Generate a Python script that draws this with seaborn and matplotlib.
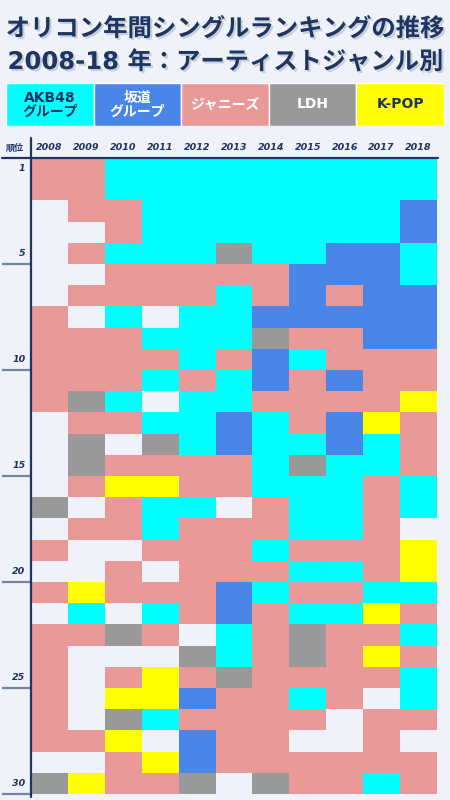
import numpy as np
import pandas as pd
import seaborn as sns
import matplotlib.pyplot as plt
import matplotlib.patheffects as pe
from matplotlib.colors import ListedColormap
from matplotlib.lines import Line2D

# data: artist genre per rank (rows 1-30) for each year
# O = other, A = AKB48, S = 坂道, J = ジャニーズ, L = LDH, K = K-POP
years = ['2008', '2009', '2010', '2011', '2012', '2013', '2014', '2015', '2016', '2017', '2018']
y2008 = list("JJOOOOOJJJ" "JJOOOOLOJO" "JOJJJJJJOL")
y2009 = list("JJJOJOJOJJ" "JLJLLJOJOO" "KAJOOOOJOK")
y2010 = list("AAJJAJJAJJ" "JAJOJKJJOJ" "JOLOJKLKJJ")
y2011 = list("AAAAAJJOAJ" "AOALJKAAJO" "JAJOKKAOKJ")
y2012 = list("AAAAAJJAAA" "JAAAJJAJJJ" "JJOLJSJSSL")
y2013 = list("AAAALJAAAJ" "AASSJJOJJJ" "SSAALJJJJO")
y2014 = list("AAAAAJJSLS" "SJAAAAJJAJ" "AJJJJJJJJL")
y2015 = list("AAAAASSSJA" "JJJALAAAJA" "JALLJAJOJJ")
y2016 = list("AAAASSJSJJ" "SJSSAAAAJA" "JAJJJJOOJJ")
y2017 = list("AAAASSSSSJ" "JJKAAJJJJJ" "AKJKJOJJJA")
y2018 = list("AASSAASSSJ" "JKJJJAAOKK" "AJAJAAJOJJ")

ranks = list(range(1, 31))
rank_labels = ['1', '5', '10', '15', '20', '25', '30']

genres = ['AKB48\nグループ', '坂道\nグループ', 'ジャニーズ', 'LDH', 'K-POP']
genre_codes = ['A', 'S', 'J', 'L', 'K']

# colours
bg = '#eff2f8'
navy = '#1e3562'
genre_colors = ['#00ffff', '#4a86e8', '#ea9999', '#999999', '#ffff00']
text_colors = [navy, 'white', 'white', 'white', navy]

sns.set_style('white')
plt.rcParams['font.family'] = ['DejaVu Sans', 'Noto Sans CJK JP']

# build the table
df = pd.DataFrame({yr: col for yr, col in zip(years, [y2008, y2009, y2010, y2011, y2012, y2013,
                                                      y2014, y2015, y2016, y2017, y2018])},
                  index=ranks)
code_map = {'O': 0, 'A': 1, 'S': 2, 'J': 3, 'L': 4, 'K': 5}
num = df.replace(code_map).astype(int)
cmap = ListedColormap([bg] + genre_colors)

fig = plt.figure(figsize=(4.5, 8), dpi=100, facecolor=bg)

W, H = 450, 800
def fx(px):
    return px / W
def fy(py):
    return 1 - py / H

def fit_width(txt, target_px):
    # shrink/grow the font so the text spans target_px
    r = fig.canvas.get_renderer()
    w = txt.get_window_extent(renderer=r).width
    txt.set_fontsize(txt.get_fontsize() * target_px / w)

# title
title_fx = [pe.withSimplePatchShadow(offset=(1.5, -1.5), shadow_rgbFace='#8090a8', alpha=0.35)]
t1 = fig.text(0.5, fy(29), 'オリコン年間シングルランキングの推移', ha='center', va='center',
              fontsize=22, fontweight='bold', color=navy, family=['Noto Sans CJK JP'],
              path_effects=title_fx)
t2 = fig.text(0.5, fy(62), '2008-18 年：アーティストジャンル別', ha='center', va='center',
              fontsize=18, fontweight='bold', color=navy, family=['DejaVu Sans', 'Noto Sans CJK JP'],
              path_effects=title_fx)
fit_width(t1, 438)
fit_width(t2, 436)

# legend strip
ax_leg = fig.add_axes([fx(6), fy(126), fx(438), 43 / H])
ax_leg.bar(range(len(genres)), [1] * len(genres), width=1.0, color=genre_colors)
ax_leg.set_xlim(-0.5, len(genres) - 0.5)
ax_leg.set_ylim(0, 1)
ax_leg.axis('off')
for i, (g, tc) in enumerate(zip(genres, text_colors)):
    ax_leg.text(i, 0.5, g, ha='center', va='center', fontsize=10, fontweight='bold',
                color=tc, linespacing=1.0)

# heatmap
ax = fig.add_axes([fx(31), fy(794), fx(406), 636 / H])
sns.heatmap(num, ax=ax, cmap=cmap, vmin=-0.5, vmax=5.5, cbar=False, linewidths=0)
for s in ax.spines.values():
    s.set_visible(False)

ax.xaxis.tick_top()
ax.set_xticks(np.arange(len(years)) + 0.5)
ax.set_xticklabels(years, fontsize=6.8, fontweight='bold', fontstyle='italic', color=navy)
ax.set_yticks([ranks.index(int(r)) + 0.5 for r in rank_labels])
ax.set_yticklabels(rank_labels, fontsize=6.8, fontweight='bold', fontstyle='italic', color=navy,
                   rotation=0)
ax.tick_params(axis='x', length=0, pad=4)
ax.tick_params(axis='y', length=0, pad=4)
ax.set_xlabel('')
ax.set_ylabel('')

# separator lines under every fifth rank
for r in rank_labels[1:]:
    ax.plot([-29 / 406, 0], [int(r), int(r)], transform=ax.get_yaxis_transform(),
            color='#7384a6', lw=1.6, clip_on=False, solid_capstyle='butt')

fig.text(fx(15), fy(148), '順位', ha='center', va='center', fontsize=6.5, fontweight='bold',
         color=navy, family=['Noto Sans CJK JP'])

# frame lines
fig.add_artist(Line2D([fx(2), fx(438)], [fy(158), fy(158)], color=navy, lw=1.6))
fig.add_artist(Line2D([fx(31), fx(31)], [fy(138), fy(797)], color=navy, lw=1.6))

fig.savefig('out.png', dpi=100, facecolor=bg)
